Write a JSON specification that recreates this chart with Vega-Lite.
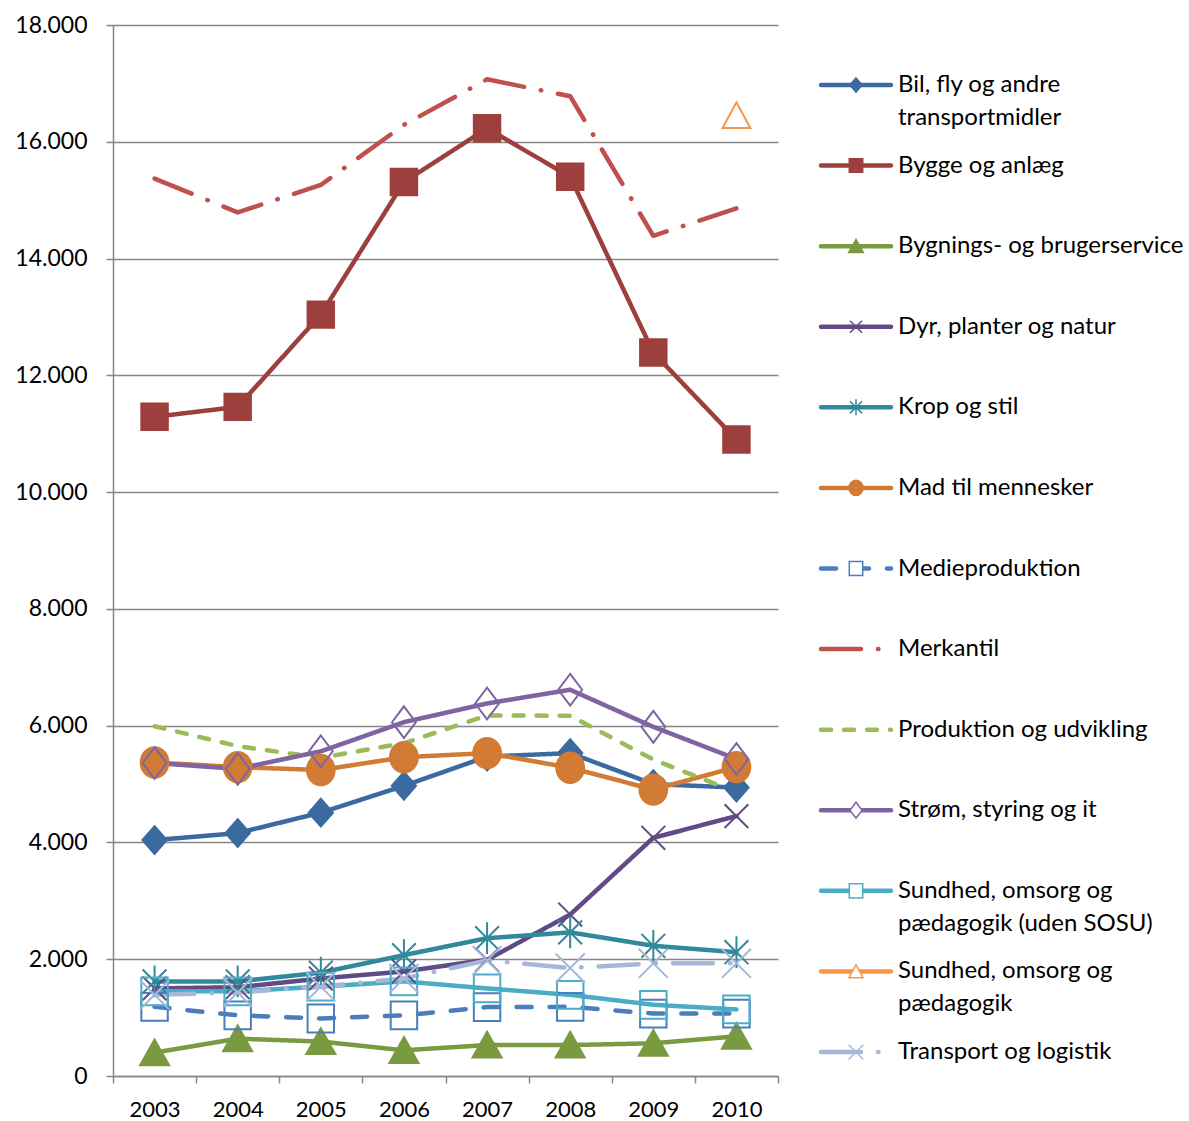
{
  "$schema": "https://vega.github.io/schema/vega-lite/v6.json",
  "padding": {"left": 14, "top": 14, "right": 0, "bottom": 0},
  "background": "white",
  "bounds": "flush",
  "spacing": 35,
  "config": {
    "view": {"stroke": null},
    "font": "Lato"
  },
  "resolve": {"scale": {"fill": "independent"}},
  "datasets": {
    "d": [
      {"series": "Bil, fly og andre transportmidler", "year": "2003", "value": 4040},
      {"series": "Bil, fly og andre transportmidler", "year": "2004", "value": 4160},
      {"series": "Bil, fly og andre transportmidler", "year": "2005", "value": 4510},
      {"series": "Bil, fly og andre transportmidler", "year": "2006", "value": 4970},
      {"series": "Bil, fly og andre transportmidler", "year": "2007", "value": 5470},
      {"series": "Bil, fly og andre transportmidler", "year": "2008", "value": 5530},
      {"series": "Bil, fly og andre transportmidler", "year": "2009", "value": 5000},
      {"series": "Bil, fly og andre transportmidler", "year": "2010", "value": 4940},
      {"series": "Bygge og anlæg", "year": "2003", "value": 11290},
      {"series": "Bygge og anlæg", "year": "2004", "value": 11460},
      {"series": "Bygge og anlæg", "year": "2005", "value": 13040},
      {"series": "Bygge og anlæg", "year": "2006", "value": 15310},
      {"series": "Bygge og anlæg", "year": "2007", "value": 16230},
      {"series": "Bygge og anlæg", "year": "2008", "value": 15400},
      {"series": "Bygge og anlæg", "year": "2009", "value": 12390},
      {"series": "Bygge og anlæg", "year": "2010", "value": 10900},
      {"series": "Bygnings- og brugerservice", "year": "2003", "value": 400},
      {"series": "Bygnings- og brugerservice", "year": "2004", "value": 640},
      {"series": "Bygnings- og brugerservice", "year": "2005", "value": 590},
      {"series": "Bygnings- og brugerservice", "year": "2006", "value": 440},
      {"series": "Bygnings- og brugerservice", "year": "2007", "value": 530},
      {"series": "Bygnings- og brugerservice", "year": "2008", "value": 530},
      {"series": "Bygnings- og brugerservice", "year": "2009", "value": 560},
      {"series": "Bygnings- og brugerservice", "year": "2010", "value": 680},
      {"series": "Dyr, planter og natur", "year": "2003", "value": 1500},
      {"series": "Dyr, planter og natur", "year": "2004", "value": 1520},
      {"series": "Dyr, planter og natur", "year": "2005", "value": 1670},
      {"series": "Dyr, planter og natur", "year": "2006", "value": 1790},
      {"series": "Dyr, planter og natur", "year": "2007", "value": 1990},
      {"series": "Dyr, planter og natur", "year": "2008", "value": 2765},
      {"series": "Dyr, planter og natur", "year": "2009", "value": 4080},
      {"series": "Dyr, planter og natur", "year": "2010", "value": 4450},
      {"series": "Krop og stil", "year": "2003", "value": 1620},
      {"series": "Krop og stil", "year": "2004", "value": 1620},
      {"series": "Krop og stil", "year": "2005", "value": 1770},
      {"series": "Krop og stil", "year": "2006", "value": 2070},
      {"series": "Krop og stil", "year": "2007", "value": 2360},
      {"series": "Krop og stil", "year": "2008", "value": 2460},
      {"series": "Krop og stil", "year": "2009", "value": 2230},
      {"series": "Krop og stil", "year": "2010", "value": 2120},
      {"series": "Mad til mennesker", "year": "2003", "value": 5370},
      {"series": "Mad til mennesker", "year": "2004", "value": 5290},
      {"series": "Mad til mennesker", "year": "2005", "value": 5240},
      {"series": "Mad til mennesker", "year": "2006", "value": 5460},
      {"series": "Mad til mennesker", "year": "2007", "value": 5530},
      {"series": "Mad til mennesker", "year": "2008", "value": 5280},
      {"series": "Mad til mennesker", "year": "2009", "value": 4905},
      {"series": "Mad til mennesker", "year": "2010", "value": 5290},
      {"series": "Medieproduktion", "year": "2003", "value": 1185},
      {"series": "Medieproduktion", "year": "2004", "value": 1040},
      {"series": "Medieproduktion", "year": "2005", "value": 985},
      {"series": "Medieproduktion", "year": "2006", "value": 1040},
      {"series": "Medieproduktion", "year": "2007", "value": 1180},
      {"series": "Medieproduktion", "year": "2008", "value": 1185},
      {"series": "Medieproduktion", "year": "2009", "value": 1070},
      {"series": "Medieproduktion", "year": "2010", "value": 1070},
      {"series": "Merkantil", "year": "2003", "value": 15370},
      {"series": "Merkantil", "year": "2004", "value": 14790},
      {"series": "Merkantil", "year": "2005", "value": 15260},
      {"series": "Merkantil", "year": "2006", "value": 16290},
      {"series": "Merkantil", "year": "2007", "value": 17070},
      {"series": "Merkantil", "year": "2008", "value": 16780},
      {"series": "Merkantil", "year": "2009", "value": 14390},
      {"series": "Merkantil", "year": "2010", "value": 14860},
      {"series": "Produktion og udvikling", "year": "2003", "value": 5990},
      {"series": "Produktion og udvikling", "year": "2004", "value": 5650},
      {"series": "Produktion og udvikling", "year": "2005", "value": 5450},
      {"series": "Produktion og udvikling", "year": "2006", "value": 5700},
      {"series": "Produktion og udvikling", "year": "2007", "value": 6175},
      {"series": "Produktion og udvikling", "year": "2008", "value": 6170},
      {"series": "Produktion og udvikling", "year": "2009", "value": 5420},
      {"series": "Produktion og udvikling", "year": "2010", "value": 4860},
      {"series": "Strøm, styring og it", "year": "2003", "value": 5360},
      {"series": "Strøm, styring og it", "year": "2004", "value": 5260},
      {"series": "Strøm, styring og it", "year": "2005", "value": 5560},
      {"series": "Strøm, styring og it", "year": "2006", "value": 6060},
      {"series": "Strøm, styring og it", "year": "2007", "value": 6380},
      {"series": "Strøm, styring og it", "year": "2008", "value": 6615},
      {"series": "Strøm, styring og it", "year": "2009", "value": 5980},
      {"series": "Strøm, styring og it", "year": "2010", "value": 5430},
      {"series": "Sundhed, omsorg og pædagogik (uden SOSU)", "year": "2003", "value": 1450},
      {"series": "Sundhed, omsorg og pædagogik (uden SOSU)", "year": "2004", "value": 1450},
      {"series": "Sundhed, omsorg og pædagogik (uden SOSU)", "year": "2005", "value": 1530},
      {"series": "Sundhed, omsorg og pædagogik (uden SOSU)", "year": "2006", "value": 1620},
      {"series": "Sundhed, omsorg og pædagogik (uden SOSU)", "year": "2007", "value": 1500},
      {"series": "Sundhed, omsorg og pædagogik (uden SOSU)", "year": "2008", "value": 1390},
      {"series": "Sundhed, omsorg og pædagogik (uden SOSU)", "year": "2009", "value": 1220},
      {"series": "Sundhed, omsorg og pædagogik (uden SOSU)", "year": "2010", "value": 1140},
      {"series": "Sundhed, omsorg og pædagogik", "year": "2010", "value": 16450},
      {"series": "Transport og logistik", "year": "2003", "value": 1390},
      {"series": "Transport og logistik", "year": "2004", "value": 1430},
      {"series": "Transport og logistik", "year": "2005", "value": 1530},
      {"series": "Transport og logistik", "year": "2006", "value": 1670},
      {"series": "Transport og logistik", "year": "2007", "value": 1980},
      {"series": "Transport og logistik", "year": "2008", "value": 1850},
      {"series": "Transport og logistik", "year": "2009", "value": 1930},
      {"series": "Transport og logistik", "year": "2010", "value": 1930}
    ],
    "leg": [
      {"series": "Bil, fly og andre transportmidler", "label": ["Bil, fly og andre", "transportmidler"]},
      {"series": "Bygge og anlæg", "label": ["Bygge og anlæg"]},
      {"series": "Bygnings- og brugerservice", "label": ["Bygnings- og brugerservice"]},
      {"series": "Dyr, planter og natur", "label": ["Dyr, planter og natur"]},
      {"series": "Krop og stil", "label": ["Krop og stil"]},
      {"series": "Mad til mennesker", "label": ["Mad til mennesker"]},
      {"series": "Medieproduktion", "label": ["Medieproduktion"]},
      {"series": "Merkantil", "label": ["Merkantil"]},
      {"series": "Produktion og udvikling", "label": ["Produktion og udvikling"]},
      {"series": "Strøm, styring og it", "label": ["Strøm, styring og it"]},
      {"series": "Sundhed, omsorg og pædagogik (uden SOSU)", "label": ["Sundhed, omsorg og", "pædagogik (uden SOSU)"]},
      {"series": "Sundhed, omsorg og pædagogik", "label": ["Sundhed, omsorg og", "pædagogik"]},
      {"series": "Transport og logistik", "label": ["Transport og logistik"]}
    ]
  },
  "hconcat": [
    {
      "width": 665,
      "height": 1051,
      "data": {"name": "d"},
      "encoding": {
        "x": {
          "field": "year", "type": "ordinal",
          "scale": {"type": "band", "paddingInner": 0, "paddingOuter": 0},
          "axis": {
            "title": null, "labelAngle": 0, "tickBand": "extent",
            "labelFont": "Lato", "labelFontSize": 22, "labelColor": "#000000",
            "labelPadding": 16, "tickSize": 7, "tickColor": "#868686", "tickWidth": 1.5,
            "domainColor": "#868686", "domainWidth": 1.5, "grid": false
          }
        },
        "y": {
          "field": "value", "type": "quantitative",
          "scale": {"domain": [0, 18000], "nice": false, "zero": true},
          "axis": {
            "title": null,
            "values": [0, 2000, 4000, 6000, 8000, 10000, 12000, 14000, 16000, 18000],
            "labelExpr": "replace(format(datum.value, ','), ',', '.')",
            "labelFont": "Lato", "labelFontSize": 23, "labelColor": "#000000",
            "labelPadding": 19, "tickSize": 7, "tickColor": "#868686", "tickWidth": 1.5,
            "domainColor": "#868686", "domainWidth": 1.5,
            "grid": true, "gridColor": "#868686", "gridWidth": 1.5
          }
        },
        "stroke": {
          "field": "series", "type": "nominal", "legend": null,
          "scale": {
            "domain": ["Bil, fly og andre transportmidler", "Bygge og anlæg", "Bygnings- og brugerservice", "Dyr, planter og natur", "Krop og stil", "Mad til mennesker", "Medieproduktion", "Merkantil", "Produktion og udvikling", "Strøm, styring og it", "Sundhed, omsorg og pædagogik (uden SOSU)", "Sundhed, omsorg og pædagogik", "Transport og logistik"],
            "range": ["#3B6AA0", "#9D3F3C", "#7A9A40", "#604A87", "#31899B", "#D27B35", "#4A7EBB", "#C0504D", "#9BBB59", "#8064A2", "#4BACC6", "#F79646", "#A6B8D8"]
          }
        }
      },
      "layer": [
        {
          "mark": {"type": "line", "strokeWidth": 4.5, "strokeCap": "round", "strokeJoin": "round"},
          "encoding": {
            "strokeDash": {
              "field": "series", "type": "nominal", "legend": null,
              "scale": {
                "domain": ["Bil, fly og andre transportmidler", "Bygge og anlæg", "Bygnings- og brugerservice", "Dyr, planter og natur", "Krop og stil", "Mad til mennesker", "Medieproduktion", "Merkantil", "Produktion og udvikling", "Strøm, styring og it", "Sundhed, omsorg og pædagogik (uden SOSU)", "Sundhed, omsorg og pædagogik", "Transport og logistik"],
                "range": [[1, 0], [1, 0], [1, 0], [1, 0], [1, 0], [1, 0], [15, 18], [40, 17, 0.5, 17], [10, 13], [1, 0], [1, 0], [1, 0], [40, 17, 0.5, 17]]
              }
            }
          }
        },
        {
          "transform": [{"filter": "datum.series !== 'Merkantil' && datum.series !== 'Produktion og udvikling'"}],
          "mark": {"type": "point", "size": 700, "strokeWidth": 2, "opacity": 1},
          "encoding": {
            "shape": {
              "field": "series", "type": "nominal", "legend": null,
              "scale": {
                "domain": ["Bil, fly og andre transportmidler", "Bygge og anlæg", "Bygnings- og brugerservice", "Dyr, planter og natur", "Krop og stil", "Mad til mennesker", "Medieproduktion", "Merkantil", "Produktion og udvikling", "Strøm, styring og it", "Sundhed, omsorg og pædagogik (uden SOSU)", "Sundhed, omsorg og pædagogik", "Transport og logistik"],
                "range": [
                  "M0,-1.05L0.92,0L0,1.05L-0.92,0Z",
                  "M-1,-1L1,-1L1,1L-1,1Z",
                  "M0,-1L1.1,0.95L-1.1,0.95Z",
                  "M-0.9,-0.9L0.9,0.9M-0.9,0.9L0.9,-0.9",
                  "M-0.9,-0.9L0.9,0.9M-0.9,0.9L0.9,-0.9M0,-1.2L0,1.2",
                  "M-1.05,0A1.05,1.15 0 1,0 1.05,0A1.05,1.15 0 1,0 -1.05,0Z",
                  "M-1,-1.05L1,-1.05L1,1.05L-1,1.05Z",
                  "circle",
                  "circle",
                  "M0,-1.2L0.9,0L0,1.2L-0.9,0Z",
                  "M-1,-1.05L1,-1.05L1,1.05L-1,1.05Z",
                  "M0,-1L1.05,0.95L-1.05,0.95Z",
                  "M-1.1,-1.1L1.1,1.1M-1.1,1.1L1.1,-1.1"
                ]
              }
            },
            "fill": {
              "field": "series", "type": "nominal", "legend": null,
              "scale": {
                "domain": ["Bil, fly og andre transportmidler", "Bygge og anlæg", "Bygnings- og brugerservice", "Dyr, planter og natur", "Krop og stil", "Mad til mennesker", "Medieproduktion", "Merkantil", "Produktion og udvikling", "Strøm, styring og it", "Sundhed, omsorg og pædagogik (uden SOSU)", "Sundhed, omsorg og pædagogik", "Transport og logistik"],
                "range": ["#3B6AA0", "#9D3F3C", "#7A9A40", "transparent", "transparent", "#D27B35", "transparent", "transparent", "transparent", "transparent", "transparent", "transparent", "transparent"]
              }
            }
          }
        }
      ]
    },
    {
      "width": 377,
      "height": 1087,
      "data": {"name": "leg"},
      "encoding": {
        "y": {
          "field": "series", "type": "nominal", "sort": null, "axis": null,
          "scale": {"type": "point", "padding": 0.744}
        },
        "stroke": {"field": "series", "type": "nominal", "legend": null}
      },
      "layer": [
        {
          "mark": {"type": "rule", "strokeWidth": 4.5, "strokeCap": "round"},
          "encoding": {
            "x": {"datum": 8, "type": "quantitative", "scale": {"domain": [0, 377], "nice": false, "zero": false}, "axis": null},
            "x2": {"datum": 78},
            "strokeDash": {"field": "series", "type": "nominal", "legend": null}
          }
        },
        {
          "transform": [{"filter": "datum.series !== 'Merkantil' && datum.series !== 'Produktion og udvikling'"}],
          "mark": {"type": "point", "size": 180, "strokeWidth": 1.5, "opacity": 1},
          "encoding": {
            "x": {"datum": 43, "type": "quantitative"},
            "shape": {"field": "series", "type": "nominal", "legend": null},
            "fill": {
              "field": "series", "type": "nominal", "legend": null,
              "scale": {
                "domain": ["Bil, fly og andre transportmidler", "Bygge og anlæg", "Bygnings- og brugerservice", "Dyr, planter og natur", "Krop og stil", "Mad til mennesker", "Medieproduktion", "Merkantil", "Produktion og udvikling", "Strøm, styring og it", "Sundhed, omsorg og pædagogik (uden SOSU)", "Sundhed, omsorg og pædagogik", "Transport og logistik"],
                "range": ["#3B6AA0", "#9D3F3C", "#7A9A40", "transparent", "transparent", "#D27B35", "white", "white", "white", "white", "white", "white", "transparent"]
              }
            }
          }
        },
        {
          "mark": {"type": "text", "align": "left", "baseline": "middle", "font": "Lato", "fontSize": 24, "lineHeight": 33, "color": "#000000"},
          "encoding": {
            "x": {"datum": 85, "type": "quantitative"},
            "text": {"field": "label"},
            "stroke": {"value": null}
          }
        }
      ]
    }
  ]
}
